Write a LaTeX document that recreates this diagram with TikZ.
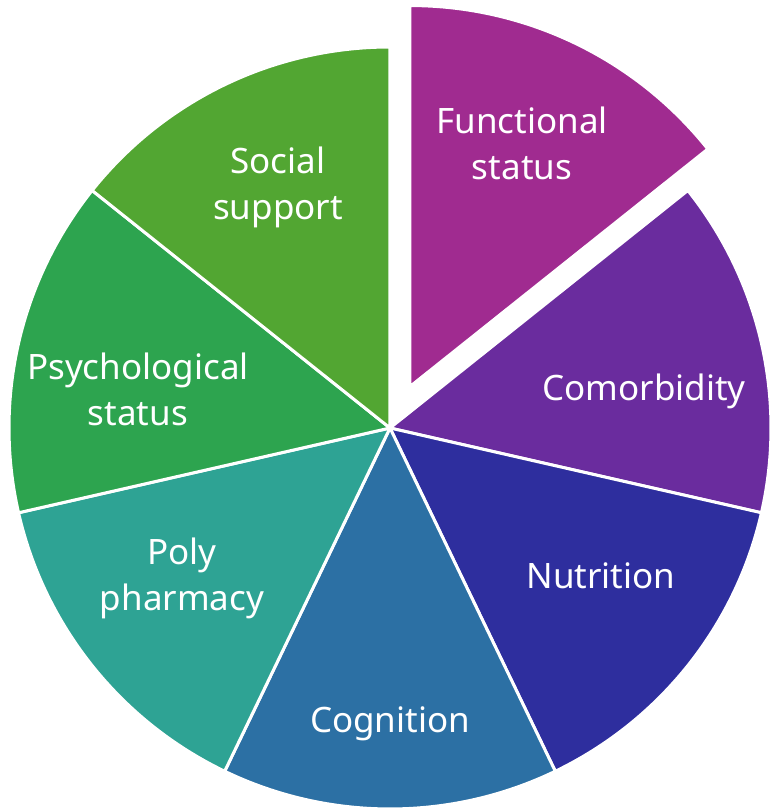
\documentclass[tikz,border=0pt]{standalone}
\usepackage{fontspec}
\setmainfont{Noto Sans}
\definecolor{cFunc}{HTML}{A02B90}
\definecolor{cComo}{HTML}{6A2C9E}
\definecolor{cNutr}{HTML}{2E2E9E}
\definecolor{cCogn}{HTML}{2C70A4}
\definecolor{cPoly}{HTML}{2EA394}
\definecolor{cPsyc}{HTML}{2DA44F}
\definecolor{cSoci}{HTML}{52A632}
\begin{document}
\begin{tikzpicture}[x=1pt,y=1pt,
  slice/.style={fill=#1, draw=white, line width=3pt, line join=miter},
  lbl/.style={text=white, font=\fontsize{35}{46}\selectfont, align=center, inner sep=0pt}]
\useasboundingbox (-390,-381) rectangle (379,428);
\def\R{381}
% seven equal sectors, one pulled outward
\foreach \a/\b/\c in {38.571/-12.857/cComo, -12.857/-64.286/cNutr,
  -64.286/-115.714/cCogn, -115.714/-167.143/cPoly,
  -167.143/-218.571/cPsyc, 141.429/90/cSoci}
  \path[slice=\c] (0,0) -- (\a:\R) arc[start angle=\a, end angle=\b, radius=\R] -- cycle;
\path[slice=cFunc, shift={(64.286:46)}] (0,0) -- (90:\R) arc[start angle=90, end angle=38.571, radius=\R] -- cycle;
% labels
\node[lbl] (func) at (132,285) {Functional\\status};
\node[lbl] (como) at (254,37) {Comorbidity};
\node[lbl] (nutr) at (211,-148) {Nutrition};
\node[lbl] (cogn) at (0,-296) {Cognition};
\node[lbl] (poly) at (-208,-150) {Poly\\pharmacy};
\node[lbl] (psyc) at (-252,39) {Psychological\\status};
\node[lbl] (soci) at (-112,241) {Social\\support};
\end{tikzpicture}
\end{document}
